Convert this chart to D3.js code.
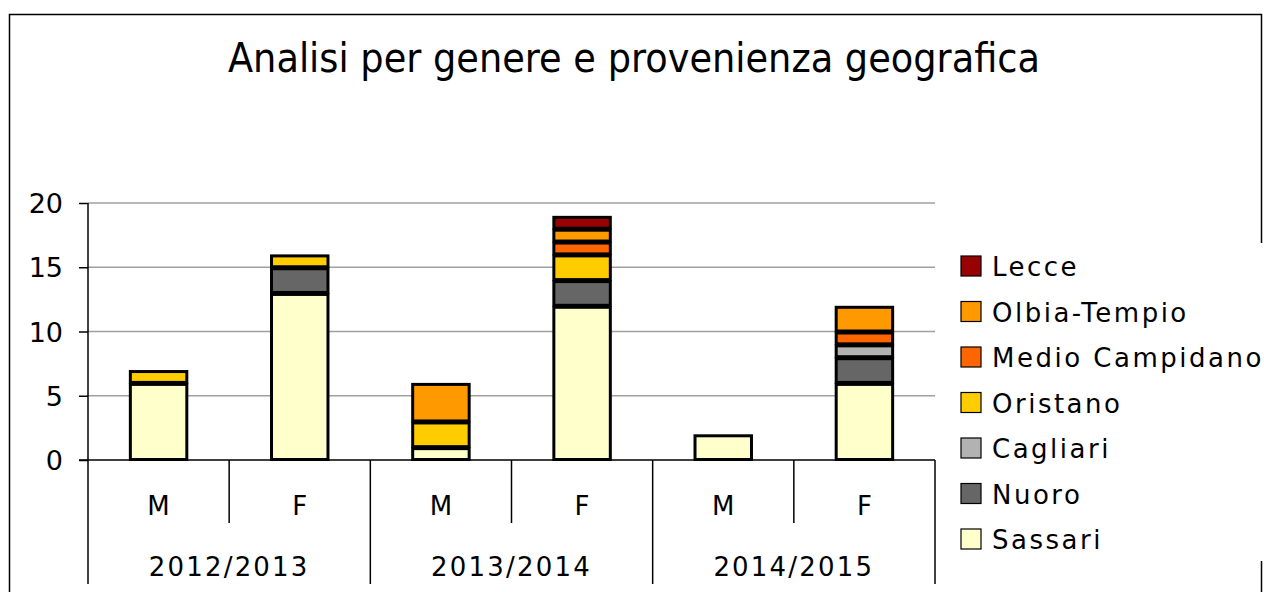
<!DOCTYPE html>
<html>
<head>
<meta charset="utf-8">
<script src="https://cdn.jsdelivr.net/npm/d3@7"></script>
<style>
body{margin:0;background:#fff}
text{font-family:"DejaVu Sans",Verdana,sans-serif;fill:#000}
</style>
</head>
<body>
<svg id="chart"></svg>
<script>
var screen = {width:1264,height:592}
var margins = {top:203,left:88,right:329,bottom:132}

var years = ["2012/2013","2013/2014","2014/2015"]
var genders = ["M","F"]
var regions = ["Sassari","Nuoro","Cagliari","Oristano","Medio Campidano","Olbia-Tempio","Lecce"]
var colors = ["#FFFFCC","#666666","#B2B2B2","#FFCC00","#FF6600","#FF9900","#990000"]

// one value per bar: 2012 M, 2012 F, 2013 M, 2013 F, 2014 M, 2014 F
var sassari = [6,13,1,12,2,6]
var nuoro = [0,2,0,2,0,2]
var cagliari = [0,0,0,0,0,1]
var oristano = [1,1,2,2,0,0]
var medio = [0,0,0,1,0,1]
var olbia = [0,0,3,1,0,2]
var lecce = [0,0,0,1,0,0]
var yTicks = [0,5,10,15,20]

var series = [sassari,nuoro,cagliari,oristano,medio,olbia,lecce]

var svg = d3.select("#chart")
            .attr("width",screen.width)
            .attr("height",screen.height)

// outer frame
svg.append("rect")
   .attr("x",9.5).attr("y",14.5)
   .attr("width",1252).attr("height",600)
   .attr("fill","#fff").attr("stroke","#000").attr("stroke-width",1.5)

svg.append("text")
   .attr("x",634).attr("y",72)
   .attr("text-anchor","middle")
   .attr("font-size",40)
   .attr("textLength",812)
   .attr("lengthAdjust","spacingAndGlyphs")
   .text("Analisi per genere e provenienza geografica")

var width = screen.width - margins.left - margins.right
var height = screen.height - margins.top - margins.bottom

var bars = []
years.forEach(function(y){genders.forEach(function(g){bars.push({year:y,gender:g})})})

var xScale = d3.scaleBand()
               .domain(d3.range(bars.length))
               .range([margins.left,margins.left+width])
var yScale = d3.scaleLinear()
               .domain([0,20])
               .range([margins.top+height,margins.top])

var stackData = bars.map(function(b,i)
{
    var row = {}
    regions.forEach(function(r,j){row[r] = series[j][i]})
    return row
})
var stacked = d3.stack().keys(regions)(stackData)

// grid
svg.append("g")
   .selectAll("line")
   .data(yTicks.slice(1))
   .enter()
   .append("line")
   .attr("x1",margins.left).attr("x2",margins.left+width)
   .attr("y1",function(d){return yScale(d)})
   .attr("y2",function(d){return yScale(d)})
   .attr("stroke","#a0a0a0").attr("stroke-width",1.5)

var yAxis = d3.axisLeft(yScale).tickValues(yTicks).tickSize(9).tickPadding(16)
svg.append("g")
   .attr("id","yAxis")
   .attr("transform","translate("+margins.left+",0)")
   .call(yAxis)
   .call(function(g){g.select(".domain").remove()})
   .call(function(g){g.selectAll("line").attr("stroke","#000").attr("stroke-width",1.5)})
   .call(function(g){g.selectAll("text").attr("font-size",27).attr("font-family","DejaVu Sans").attr("dy","0.36em")})

// axis lines
var y0 = yScale(0)
svg.append("line")
   .attr("x1",margins.left).attr("x2",margins.left)
   .attr("y1",margins.top).attr("y2",584)
   .attr("stroke","#000").attr("stroke-width",1.5)

// bars
var barW = xScale.bandwidth()*0.4
svg.append("g")
   .selectAll("g")
   .data(stacked)
   .enter()
   .append("g")
   .attr("fill",function(d,i){return colors[i]})
   .selectAll("rect")
   .data(function(d){return d.filter(function(s){return s[1]>s[0]})})
   .enter()
   .append("rect")
   .attr("x",function(s){return xScale(stackData.indexOf(s.data))+(xScale.bandwidth()-barW)/2})
   .attr("width",barW)
   .attr("y",function(s){return yScale(s[1])+1.5})
   .attr("height",function(s){return yScale(s[0])-yScale(s[1])-2})
   .attr("stroke","#000").attr("stroke-width",3)

svg.append("line")
   .attr("x1",margins.left-9).attr("x2",margins.left+width)
   .attr("y1",y0).attr("y2",y0)
   .attr("stroke","#000").attr("stroke-width",1.5)

// category separators
var seps = d3.range(1,bars.length+1)
svg.append("g")
   .selectAll("line")
   .data(seps)
   .enter()
   .append("line")
   .attr("x1",function(i){return margins.left+i*xScale.step()})
   .attr("x2",function(i){return margins.left+i*xScale.step()})
   .attr("y1",y0)
   .attr("y2",function(i){return i%2==0 ? 584 : 523})
   .attr("stroke","#000").attr("stroke-width",1.5)

svg.append("g")
   .selectAll("text")
   .data(bars)
   .enter()
   .append("text")
   .attr("x",function(b,i){return xScale(i)+xScale.bandwidth()/2})
   .attr("y",515)
   .attr("text-anchor","middle")
   .attr("font-size",26)
   .text(function(b){return b.gender})

svg.append("g")
   .selectAll("text")
   .data(years)
   .enter()
   .append("text")
   .attr("x",function(y,i){return margins.left+(2*i+1)*xScale.step()})
   .attr("y",576)
   .attr("text-anchor","middle")
   .attr("font-size",26)
   .attr("letter-spacing",2.2)
   .text(function(y){return y})

// legend
svg.append("rect")
   .attr("x",940).attr("y",243)
   .attr("width",330).attr("height",318)
   .attr("fill","#fff")
var items = regions.slice().reverse()
var legendRows = svg.append("g")
   .selectAll("g")
   .data(items)
   .enter()
   .append("g")
   .attr("transform",function(r,i){return "translate(960,"+(266+i*45.5)+")"})
legendRows.append("rect")
   .attr("x",1).attr("y",-10)
   .attr("width",20).attr("height",20)
   .attr("fill",function(r){return colors[regions.indexOf(r)]})
   .attr("stroke","#000").attr("stroke-width",1.2)
legendRows.append("text")
   .attr("x",32).attr("y",10)
   .attr("font-size",26)
   .attr("letter-spacing",2.5)
   .text(function(r){return r})
</script>
</body>
</html>
